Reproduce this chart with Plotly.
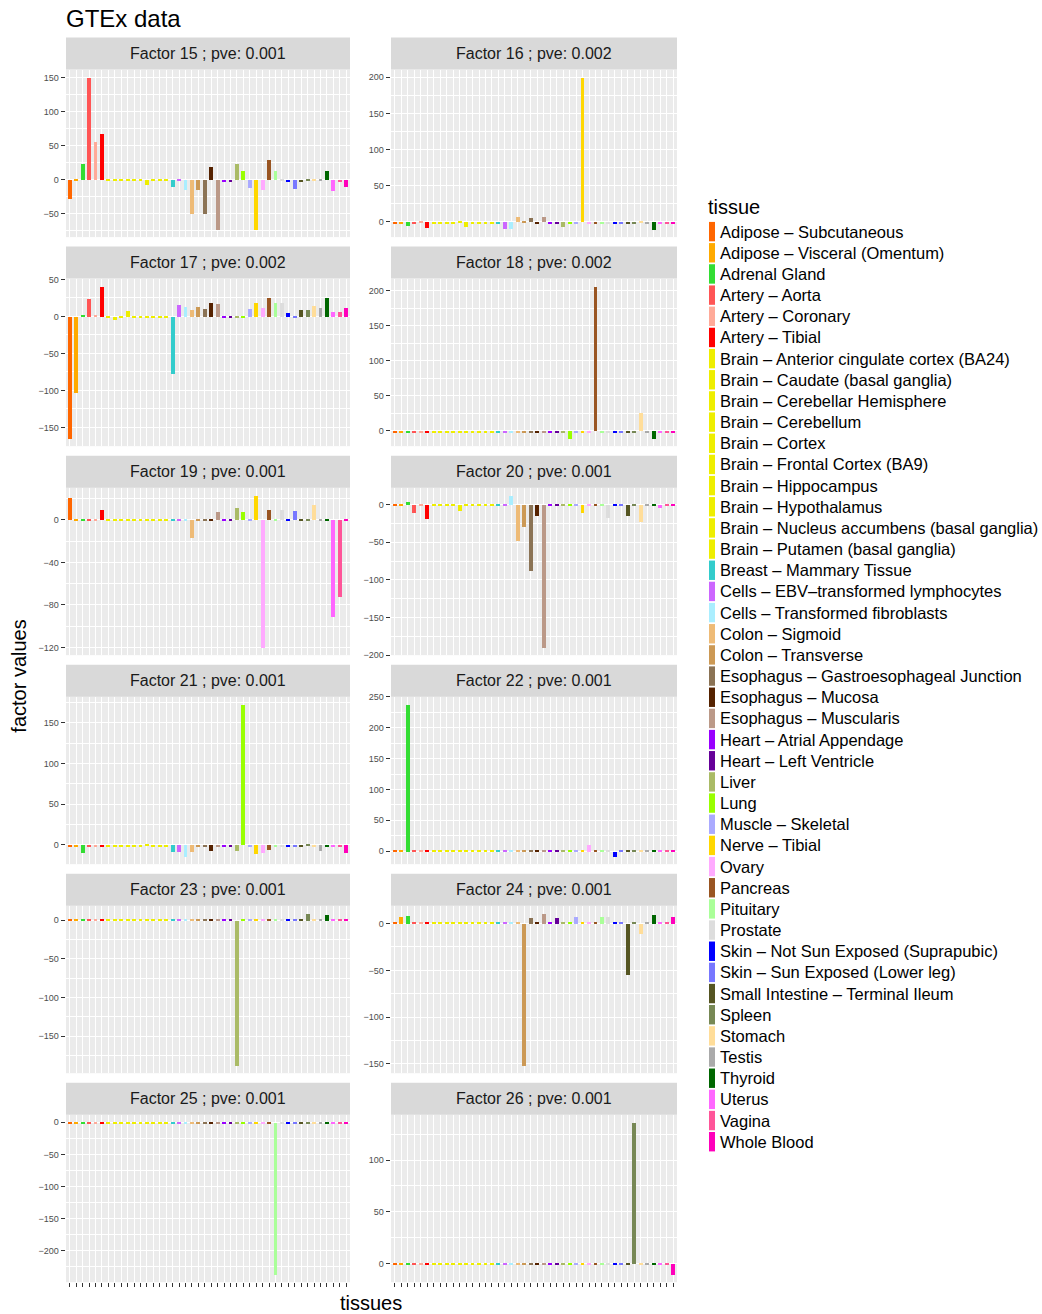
import plotly.graph_objects as go

# ---------------- data ----------------
tissues = [
    "Adipose – Subcutaneous", "Adipose – Visceral (Omentum)", "Adrenal Gland",
    "Artery – Aorta", "Artery – Coronary", "Artery – Tibial",
    "Brain – Anterior cingulate cortex (BA24)", "Brain – Caudate (basal ganglia)",
    "Brain – Cerebellar Hemisphere", "Brain – Cerebellum", "Brain – Cortex",
    "Brain – Frontal Cortex (BA9)", "Brain – Hippocampus", "Brain – Hypothalamus",
    "Brain – Nucleus accumbens (basal ganglia)", "Brain – Putamen (basal ganglia)",
    "Breast – Mammary Tissue", "Cells – EBV–transformed lymphocytes",
    "Cells – Transformed fibroblasts", "Colon – Sigmoid", "Colon – Transverse",
    "Esophagus – Gastroesophageal Junction", "Esophagus – Mucosa",
    "Esophagus – Muscularis", "Heart – Atrial Appendage", "Heart – Left Ventricle",
    "Liver", "Lung", "Muscle – Skeletal", "Nerve – Tibial", "Ovary", "Pancreas",
    "Pituitary", "Prostate", "Skin – Not Sun Exposed (Suprapubic)",
    "Skin – Sun Exposed (Lower leg)", "Small Intestine – Terminal Ileum", "Spleen",
    "Stomach", "Testis", "Thyroid", "Uterus", "Vagina", "Whole Blood",
]
tissue_colors = [
    "#FF6600", "#FFAA00", "#33DD33", "#FF5555", "#FFAA99", "#FF0000",
    "#EEEE00", "#EEEE00", "#EEEE00", "#EEEE00", "#EEEE00", "#EEEE00",
    "#EEEE00", "#EEEE00", "#EEEE00", "#EEEE00",
    "#33CCCC", "#CC66FF", "#AAEEFF", "#EEBB77", "#CC9955", "#8B7355",
    "#552200", "#BB9988", "#9900FF", "#660099", "#AABB66", "#99FF00",
    "#AAAAFF", "#FFD700", "#FFAAFF", "#995522", "#AAFF99", "#DDDDDD",
    "#0000FF", "#7777FF", "#555522", "#778855", "#FFDD99", "#AAAAAA",
    "#006600", "#FF66FF", "#FF5599", "#FF00BB",
]

factor_ids = [15, 16, 17, 18, 19, 20, 21, 22, 23, 24, 25, 26]
factor_pve = ["0.001", "0.002", "0.002", "0.002", "0.001", "0.001",
              "0.001", "0.001", "0.001", "0.001", "0.001", "0.001"]
tick_steps = [50, 50, 50, 50, 40, 50, 50, 50, 50, 50, 50, 50]

f15 = [-27, 1.3, 24, 151, 56.6, 68.5, 1.3, 1.3, 1.3, 1.3, 1.3, 1.3, -6.9, 1.3, 1.3, 1.3,
       -9.4, 1.5, -14, -50, -14, -50, 20, -73, -1.3, -1.3, 24, 14, -11, -73, -14, 30,
       14, 1.3, -1.3, -12.5, -1.3, 1.5, 1.3, 1.3, 14, -16, -1.3, -9.5]
f16 = [-1.3, -1.3, -5.6, -1.3, 1.5, -8.4, -1.3, -1.3, -1.3, -1.3, 1.5, -6.5, -1.3, -1.3, -1.3, -1.3,
       -1.3, -9, -9, 7, 1.5, 5.5, -1.3, 7, -1.3, -1.3, -6.5, -1.3, -1.3, 200, -1.3, -1.3,
       -1.3, -1.3, -1.3, -1.3, -1.3, -1.3, 1.5, -1.3, -10.7, -1.3, -1.3, -1.3]
f17 = [-165, -103, 1.3, 24.4, 1.3, 40.7, -1.3, -4, -1.3, 7.7, -1.3, -1.3, -1.3, -1.3, -1.3, -1.3,
       -78, 16, 13.5, 9.5, 13.5, 11, 19, 17.6, -1.3, -1.3, -1.3, -1.3, 11, 19, 12, 25.8,
       19, 19, 5.4, -1.3, 9.5, 9.5, 15, 12, 25.8, 6.8, 6.8, 12]
f18 = [-1.3, -1.3, -1.3, -1.3, -1.3, -1.3, -1.3, -1.3, -1.3, -1.3, -1.3, -1.3, -1.3, -1.3, -1.3, -1.3,
       -1.3, -1.3, -1.3, -1.3, -1.3, -1.3, -1.3, -1.3, -1.3, -1.3, -1.3, -11, -1.3, -1.3, -1.3, 206.7,
       -1.3, -1.3, -1.3, -1.3, -1.3, -1.3, 25.8, -1.3, -11, -1.3, -1.3, -1.3]
f19 = [21, 1, 1, 1, 1, 9.8, 1, 1, 1, 1, 1, 1, 1, 1, 1, 1,
       1, 1, 1, -16.7, 1, 1, 1, 7.9, 1, 1, 11.7, 7.9, 1, 23, -120, 9.8,
       1, 9.8, 1, 8.8, 1, 1.3, 14.5, 1, 1, -91, -72, 1]
f20 = [1.3, 1.3, 3.6, -10.3, 1.3, -18.3, 1.3, 1.3, 1.3, 1.3, -7.6, 1.3, 1.3, 1.3, 1.3, 1.3,
       1.3, 1.3, 12.5, -47.9, -29, -88, -14.3, -190, 1.3, 1.3, 1.3, 1.3, 1.3, -10.3, 1.3, 1.3,
       1.3, -17, 1.3, 1.3, -14.3, 1.3, -22.4, 1.3, 1.3, -3.6, 1.3, 1.3]
f21 = [-1.3, -1.3, -9.8, -1.3, -1.3, -1.3, -1.3, -1.3, -1.3, -1.3, -1.3, -1.3, 1.5, -1.3, -1.3, -1.3,
       -8.6, -8.6, -14.3, -8.6, -1.3, -1.3, -7.4, -1.3, -2.5, -1.3, -7.4, 172.9, -1.3, -11, -9.8, -6.1,
       -1.3, -1.3, -1.3, -1.3, -1.3, 1.5, -1.3, -7.4, -1.3, -1.3, -1.3, -9.8]
f22 = [1.3, 1.3, 238, 1.3, 1.3, 1.3, 1.3, 1.3, 1.3, 1.3, 1.3, 1.3, 1.3, 1.3, 1.3, 1.3,
       1.3, 1.3, 1.3, 1.3, 1.3, 1.3, 1.3, 1.3, 1.3, 1.3, 1.3, 1.3, 1.3, 1.3, 10.9, 1.3,
       1.3, 1.3, -8.7, 1.3, 1.3, 1.3, 1.3, 1.3, 1.3, 1.3, 1.3, 1.3]
f23 = [1.3, 1.3, 1.3, 1.3, 1.3, 1.3, 1.3, 1.3, 1.3, 1.3, 1.3, 1.3, 1.3, 1.3, 1.3, 1.3,
       1.3, 1.3, 1.3, 1.3, 1.3, 1.3, 1.3, 1.3, 1.3, 1.3, -188, 1.3, 1.3, 1.3, 1.3, 1.3,
       1.3, 1.3, 1.3, 1.3, 1.3, 9, 1.3, 1.3, 7.8, 1.3, 1.3, 1.3]
f24 = [1.8, 7.9, 8.9, 1.3, 1.3, 1.3, 1.3, 1.3, 1.3, 1.3, 1.3, 1.3, 1.3, 1.3, 1.3, 1.3,
       1.8, 1.8, 1.3, 1.3, -151.8, 6, 1, 11, 1.3, 6, 1.3, 1.3, 7, 1.3, 1.3, 1.3,
       7.9, 7, 1.3, 1.3, -55, 1.3, -11, 1.3, 10, 1.3, 1.3, 7]
f25 = [-1.3, -1.3, -1.3, -1.3, -1.3, -1.3, -1.3, -1.3, -1.3, -1.3, -1.3, -1.3, -1.3, -1.3, -1.3, -1.3,
       -1.3, -1.3, -1.3, -1.3, -1.3, -1.3, -1.3, -1.3, -1.3, -1.3, -1.3, -1.3, -1.3, -1.3, -1.3, -1.3,
       -237, -1.3, -1.3, -1.3, -1.3, -1.3, -1.3, -1.3, -1.3, -1.3, -1.3, -1.3]
f26 = [1, 1, 1, 1, 1, 1, 1, 1, 1, 1, 1, 1, 1, 1, 1, 1,
       1, 1, 1, 1, 1, 1, 1, 1, 1, 1, 1, 1, 1, 1, 1, 1,
       1, 1, 1, 1, 1, 136.3, 1, 1, 1, 1, 1, -10.3]

factor_values = [f15, f16, f17, f18, f19, f20, f21, f22, f23, f24, f25, f26]

# ---------------- layout helpers ----------------
W, H = 1042, 1314
FONT = "Liberation Sans, Arial, sans-serif"
# the photographed page comes out very slightly squeezed vertically; compensate
V_SCALE, V_OFF = 0.9923, 4.4


def px(x):
    return x / W


def py(y):
    return 1 - ((y - V_OFF) / V_SCALE) / H


col_x = [(66, 350), (391, 677)]
ROW0, PITCH, STRIP_H, PANEL_H = 37, 209, 32, 167.5
n = len(tissues)
xs = list(range(n))

fig = go.Figure()
layout = {}
shapes = []
annotations = []

for k, vals in enumerate(factor_values):
    r, c = divmod(k, 2)
    idx = k + 1
    xa = "x" if idx == 1 else f"x{idx}"
    ya = "y" if idx == 1 else f"y{idx}"
    fig.add_trace(go.Bar(
        x=xs, y=vals, width=0.6,
        marker=dict(color=tissue_colors, line=dict(width=0)),
        xaxis=xa, yaxis=ya, showlegend=False,
        customdata=tissues, hovertemplate="%{customdata}: %{y}<extra></extra>",
    ))
    x0, x1 = col_x[c]
    strip_top = ROW0 + r * PITCH
    panel_top = strip_top + STRIP_H
    panel_bot = panel_top + PANEL_H
    lo = min(0, min(vals))
    hi = max(0, max(vals))
    pad = 0.05 * (hi - lo)
    step = tick_steps[k]
    bottom_row = (r == 5)
    layout["xaxis" if idx == 1 else f"xaxis{idx}"] = dict(
        domain=[px(x0), px(x1)], anchor=ya, range=[-0.6, n - 0.4],
        tickmode="array", tickvals=xs, showticklabels=False,
        showgrid=True, gridcolor="white", gridwidth=1.2, zeroline=False,
        ticks="outside" if bottom_row else "", ticklen=4, tickwidth=1.3,
        tickcolor="#333333", showline=False, fixedrange=True,
    )
    layout["yaxis" if idx == 1 else f"yaxis{idx}"] = dict(
        domain=[py(panel_bot), py(panel_top)], anchor=xa,
        range=[lo - pad, hi + pad],
        tickmode="linear", tick0=0, dtick=step,
        showgrid=True, gridcolor="white", gridwidth=1.2,
        minor=dict(tickmode="linear", tick0=0, dtick=step / 2, showgrid=True,
                   gridcolor="white", gridwidth=0.6, ticks=""),
        zeroline=False, showline=False,
        ticks="outside", ticklen=4.5, tickwidth=1.3, tickcolor="#333333",
        tickfont=dict(family=FONT, size=9, color="#4D4D4D"),
        fixedrange=True,
    )
    shapes.append(dict(type="rect", xref="paper", yref="paper",
                       x0=px(x0), x1=px(x1), y0=py(panel_top), y1=py(strip_top),
                       fillcolor="#D9D9D9", line=dict(width=0), layer="below"))
    annotations.append(dict(xref="paper", yref="paper",
                            x=px((x0 + x1) / 2), y=py(strip_top + STRIP_H / 2),
                            text=f"Factor {factor_ids[k]} ; pve: {factor_pve[k]}",
                            showarrow=False, xanchor="center", yanchor="middle",
                            font=dict(family=FONT, size=16, color="#1A1A1A")))

# titles
annotations.append(dict(xref="paper", yref="paper", x=px(64), y=py(18),
                        text="GTEx data", showarrow=False, xanchor="left",
                        yanchor="middle", font=dict(family=FONT, size=24, color="black")))
annotations.append(dict(xref="paper", yref="paper", x=px(19), y=py(676),
                        text="factor values", textangle=-90, showarrow=False,
                        xanchor="center", yanchor="middle",
                        font=dict(family=FONT, size=20, color="black")))
annotations.append(dict(xref="paper", yref="paper", x=px(371), y=py(1302),
                        text="tissues", showarrow=False, xanchor="center",
                        yanchor="middle", font=dict(family=FONT, size=20, color="black")))

# legend (drawn manually to match ggplot key layout)
annotations.append(dict(xref="paper", yref="paper", x=px(706), y=py(206),
                        text="tissue", showarrow=False, xanchor="left",
                        yanchor="middle", font=dict(family=FONT, size=20, color="black")))
LEG0, LEG_STEP = 231, 21.163
for i, (name, col) in enumerate(zip(tissues, tissue_colors)):
    yc = LEG0 + i * LEG_STEP
    shapes.append(dict(type="rect", xref="paper", yref="paper",
                       x0=px(709), x1=px(715), y0=py(yc + 9.7), y1=py(yc - 9.7),
                       fillcolor=col, line=dict(width=0)))
    annotations.append(dict(xref="paper", yref="paper", x=px(718), y=py(yc),
                            text=name, showarrow=False, xanchor="left",
                            yanchor="middle",
                            font=dict(family=FONT, size=16.5, color="black")))

fig.update_layout(
    width=W, height=H,
    margin=dict(l=0, r=0, t=0, b=0),
    paper_bgcolor="white", plot_bgcolor="#EBEBEB",
    showlegend=False, bargap=0,
    shapes=shapes, annotations=annotations,
    font=dict(family=FONT),
    **layout,
)

fig.write_html(
    "out.html",
    config={"displayModeBar": False},
    post_script="document.body.style.margin='0';document.body.style.overflow='hidden';",
)
